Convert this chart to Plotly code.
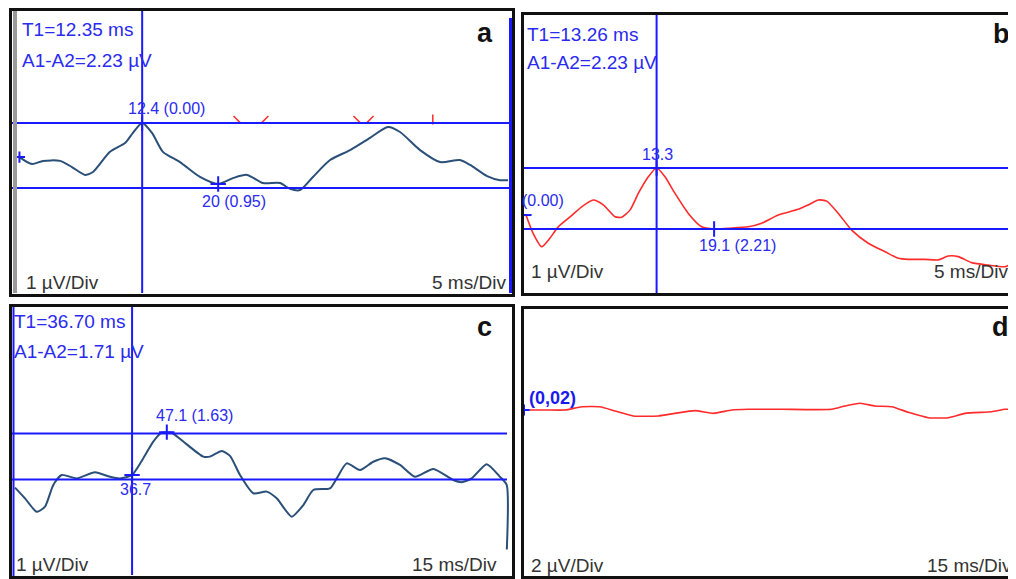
import plotly.graph_objects as go

# The page places the figure 8 px from the window's top-left corner,
# so the figure is sized/offset to land on the 1016x579 window.
OFF = 8
W, H = 1016 - OFF, 579 - OFF

# ---------------- data (ms, µV) ----------------
a_t = [0.0, 1.26, 2.37, 4.08, 5.28, 6.59, 7.40, 9.11, 10.62, 11.42, 12.35, 13.34, 14.44, 16.15,
       18.17, 20.0, 21.49, 22.9, 24.51, 26.22, 27.23, 28.24, 29.54, 31.26, 33.27, 35.28, 37.09,
       38.30, 40.32, 42.33, 44.34, 45.35, 47.06, 48.36, 49.17]
a_v = [-1.17, -1.41, -1.30, -1.30, -1.51, -1.78, -1.68, -0.99, -0.69, -0.34, 0.0, -0.34, -0.99,
       -1.34, -1.85, -2.09, -1.89, -1.78, -2.06, -2.06, -2.26, -2.30, -1.85, -1.27, -0.93, -0.51,
       -0.14, -0.31, -0.93, -1.34, -1.27, -1.44, -1.82, -1.96, -1.96]

b_t = [0.0, 0.71, 1.59, 2.44, 3.25, 4.47, 5.65, 6.83, 7.85, 9.04, 9.72, 10.56, 11.40, 12.42,
       13.26, 14.11, 15.13, 16.48, 17.84, 19.1, 20.54, 22.57, 23.93, 25.61, 27.64, 28.65, 29.68,
       30.53, 31.71, 33.07, 34.75, 36.45, 37.80, 38.81, 40.51, 41.86, 42.87, 43.89, 45.25, 46.93,
       48.63, 49.64]
b_v = [-1.72, -2.38, -2.88, -2.56, -2.16, -1.79, -1.42, -1.17, -1.35, -1.78, -1.80, -1.54, -0.93,
       -0.32, 0.0, -0.32, -0.93, -1.66, -2.15, -2.23, -2.20, -2.15, -2.02, -1.72, -1.51, -1.35,
       -1.17, -1.21, -1.66, -2.27, -2.75, -3.06, -3.30, -3.34, -3.34, -3.36, -3.22, -3.24, -3.46,
       -3.55, -3.61, -3.43]

c_t = [1.65, 4.64, 8.14, 10.63, 13.11, 15.63, 20.12, 25.6, 30.09, 33.08, 36.7, 40.06, 43.05,
       45.57, 47.1, 48.6, 52.04, 58.02, 60.03, 63.53, 66.02, 69.01, 72.99, 77.0, 80.0, 84.49,
       87.96, 90.96, 95.96, 97.96, 100.96, 104.94, 108.92, 112.43, 116.92, 121.41, 126.89,
       132.87, 135.39, 138.38, 142.87, 146.86, 148.86, 148.9]
c_v = [-2.01, -2.41, -2.91, -2.72, -1.91, -1.54, -1.67, -1.44, -1.61, -1.67, -1.54, -0.92, -0.30,
       0.03, 0.05, 0.03, -0.30, -0.86, -0.86, -0.65, -0.83, -1.54, -2.22, -2.16, -2.41, -3.09,
       -2.66, -2.10, -2.04, -1.67, -1.11, -1.36, -1.05, -0.92, -1.17, -1.61, -1.32, -1.73, -1.81,
       -1.67, -1.14, -1.61, -1.91, -4.31]

d_t = [0.0, 6.29, 12.28, 17.28, 22.75, 27.25, 32.72, 40.21, 45.21, 51.2, 56.68, 62.19, 67.16,
       77.16, 92.13, 96.11, 100.6, 105.09, 110.09, 115.06, 121.05, 127.04, 132.04, 140.03,
       144.01, 147.0]
d_v = [0.0, 0.0, 0.0, 0.24, 0.24, -0.07, -0.44, -0.44, -0.25, -0.05, -0.25, 0.0, 0.05, 0.05,
       0.05, 0.30, 0.50, 0.30, 0.24, -0.17, -0.57, -0.57, -0.25, -0.13, 0.05, 0.05]

# cursors: time of vertical cursor, levels of the two horizontal cursors, marker points
a_cursor_t = 12.35
a_levels = [0.0, -2.23]
a_marks_t = [12.35, 20.0]
a_marks_v = [0.0, -2.09]
b_cursor_t = 13.26
b_levels = [0.0, -2.23]
b_marks_t = [13.26, 19.1]
b_marks_v = [0.0, -2.23]
c_cursor_t = 36.7
c_levels = [0.0, -1.71]
c_marks_t = [47.1, 36.7]
c_marks_v = [0.05, -1.54]

# red latency ticks in panel a
a_red_t = [21.9, 24.7, 33.97, 35.28, 41.6]
a_red_sym = ["line-nw", "line-ne", "line-nw", "line-ne", "line-ns"]

BLUE = "#1a1aff"
TXTBLUE = "#2a2af0"
NAVY = "#2a4f78"
RED = "#ff2a2a"
FONT = "Liberation Sans, Arial, sans-serif"


def px(x):
    return (x - OFF) / W


def py(y):
    return 1 - (y - OFF) / H


fig = go.Figure()

# panel geometry (reference-pixel boxes of the inner plotting areas)
panels = {
    "": dict(xd=(12, 512), yd=(11, 293), xr=[-0.75, 49.57], yr=[-5.83, 3.84]),
    "2": dict(xd=(524, 1016), yd=(15, 293), xr=[-0.203, 49.75], yr=[-4.57, 5.594]),
    "3": dict(xd=(12, 512), yd=(307, 575), xr=[0.749, 150.45], yr=[-5.26, 4.703]),
    "4": dict(xd=(524, 1016), yd=(309, 575), xr=[0.0, 147.3], yr=[-12.22, 7.48]),
}
layout_axes = {}
for k, p in panels.items():
    layout_axes["xaxis" + k] = dict(domain=[px(p["xd"][0]), min(1.0, px(p["xd"][1]))], range=p["xr"],
                                    visible=False, fixedrange=True, anchor="y" + k)
    layout_axes["yaxis" + k] = dict(domain=[max(0.0, py(p["yd"][1])), py(p["yd"][0])], range=p["yr"],
                                    visible=False, fixedrange=True, anchor="x" + k)

# traces
fig.add_trace(go.Scatter(x=a_t, y=a_v, mode="lines",
                         line=dict(color=NAVY, width=2, shape="spline", smoothing=0.7),
                         xaxis="x", yaxis="y", hoverinfo="skip"))
fig.add_trace(go.Scatter(x=b_t, y=b_v, mode="lines",
                         line=dict(color=RED, width=1.6, shape="spline", smoothing=0.6),
                         xaxis="x2", yaxis="y2", hoverinfo="skip"))
fig.add_trace(go.Scatter(x=c_t, y=c_v, mode="lines",
                         line=dict(color=NAVY, width=2, shape="spline", smoothing=0.6),
                         xaxis="x3", yaxis="y3", hoverinfo="skip"))
fig.add_trace(go.Scatter(x=d_t, y=d_v, mode="lines",
                         line=dict(color=RED, width=1.6, shape="spline", smoothing=0.5),
                         xaxis="x4", yaxis="y4", hoverinfo="skip"))

# cursor markers
for xs, ys, xa, ya in [(a_marks_t, a_marks_v, "x", "y"), (b_marks_t, b_marks_v, "x2", "y2"),
                       (c_marks_t, c_marks_v, "x3", "y3")]:
    fig.add_trace(go.Scatter(x=xs, y=ys, mode="markers", xaxis=xa, yaxis=ya, hoverinfo="skip",
                             marker=dict(symbol="cross-thin", size=11, line=dict(color=BLUE, width=2))))
# start ticks
fig.add_trace(go.Scatter(x=[a_t[0]], y=[a_v[0]], mode="markers", xaxis="x", yaxis="y", hoverinfo="skip",
                         marker=dict(symbol="cross-thin", size=8, line=dict(color=BLUE, width=2))))
fig.add_trace(go.Scatter(x=[b_t[0]], y=[b_v[0]], mode="markers", xaxis="x2", yaxis="y2", hoverinfo="skip",
                         marker=dict(symbol="line-ew", size=8, line=dict(color=BLUE, width=2))))
fig.add_trace(go.Scatter(x=[d_t[0]], y=[d_v[0]], mode="markers", xaxis="x4", yaxis="y4", hoverinfo="skip",
                         marker=dict(symbol="cross-thin", size=8, line=dict(color=BLUE, width=2))))
# red ticks
fig.add_trace(go.Scatter(x=a_red_t, y=[0.12] * len(a_red_t), mode="markers", xaxis="x", yaxis="y",
                         hoverinfo="skip",
                         marker=dict(symbol=a_red_sym, size=7, line=dict(color=RED, width=1.5))))

shapes = []
# cursor lines
for k, ct, levels in [("", a_cursor_t, a_levels), ("2", b_cursor_t, b_levels), ("3", c_cursor_t, c_levels)]:
    xr = "x" + k
    yr = "y" + k
    shapes.append(dict(type="line", xref=xr, yref=yr + " domain", x0=ct, x1=ct, y0=0, y1=1,
                       line=dict(color=BLUE, width=2)))
    for lv in levels:
        x1 = 0.99 if k == "3" else 1
        shapes.append(dict(type="line", xref=xr + " domain", yref=yr, x0=0, x1=x1, y0=lv, y1=lv,
                           line=dict(color=BLUE, width=2)))

# decorative blue edge lines
shapes.append(dict(type="line", xref="paper", yref="paper", x0=px(510.5), x1=px(510.5), y0=py(18), y1=py(293),
                   line=dict(color=BLUE, width=3)))
shapes.append(dict(type="line", xref="paper", yref="paper", x0=px(13.5), x1=px(13.5), y0=py(307), y1=py(576),
                   line=dict(color=BLUE, width=2)))
# gray left strip in panel a
shapes.append(dict(type="rect", xref="paper", yref="paper", x0=px(13), x1=px(17), y0=py(293), y1=py(11),
                   line=dict(width=0), fillcolor="#9a9a9a"))
# frames
for (x0, y0, x1, y1) in [(10.5, 9.5, 513.5, 295.5), (522.5, 13.5, 1019, 294.5),
                         (10.5, 305.5, 513.5, 577.5), (522.5, 307.5, 1019, 577.5)]:
    shapes.append(dict(type="rect", xref="paper", yref="paper", x0=px(x0), x1=px(x1), y0=py(y1), y1=py(y0),
                       line=dict(color="#111111", width=3), fillcolor="rgba(0,0,0,0)"))

ann = []


def text(x, y, s, size=19, color=TXTBLUE, bold=False, anchor="left"):
    ann.append(dict(x=px(x), y=py(y), xref="paper", yref="paper",
                    text=("<b>%s</b>" % s) if bold else s,
                    showarrow=False, xanchor=anchor, yanchor="middle", borderpad=0,
                    font=dict(family=FONT, size=size, color=color)))


# panel a
text(21, 29, "T1=12.35 ms")
text(21, 60, "A1-A2=2.23 µV")
text(127, 108, "12.4 (0.00)", size=16)
text(201, 201, "20 (0.95)", size=16)
text(25, 283, "1 µV/Div", color="#333333")
text(431, 283, "5 ms/Div", color="#333333")
text(485, 33, "a", size=27, color="#111111", bold=True, anchor="center")
# panel b
text(526, 34, "T1=13.26 ms")
text(526, 63, "A1-A2=2.23 µV")
text(641, 154, "13.3", size=16)
text(698, 245, "19.1 (2.21)", size=16)
text(521, 200, "(0.00)", size=16)
text(530, 271, "1 µV/Div", color="#333333")
text(933, 271, "5 ms/Div", color="#333333")
text(1001, 34, "b", size=27, color="#111111", bold=True, anchor="center")
# panel c
text(13, 321, "T1=36.70 ms")
text(13, 351, "A1-A2=1.71 µV")
text(155, 416, "47.1 (1.63)", size=16)
text(119, 489, "36.7", size=16)
text(15, 564, "1 µV/Div", color="#333333")
text(411, 564, "15 ms/Div", color="#333333")
text(484, 327, "c", size=27, color="#111111", bold=True, anchor="center")
# panel d
text(528, 398, "(0,02)", size=18, bold=True, color="#1a1aee")
text(530, 565, "2 µV/Div", color="#333333")
text(926, 565, "15 ms/Div", color="#333333")
text(1000, 327, "d", size=27, color="#111111", bold=True, anchor="center")

fig.update_layout(width=W, height=H, margin=dict(l=0, r=0, t=0, b=0), showlegend=False,
                  paper_bgcolor="white", plot_bgcolor="white", shapes=shapes, annotations=ann,
                  **layout_axes)

fig.write_html("out.html", config={"displayModeBar": False})
